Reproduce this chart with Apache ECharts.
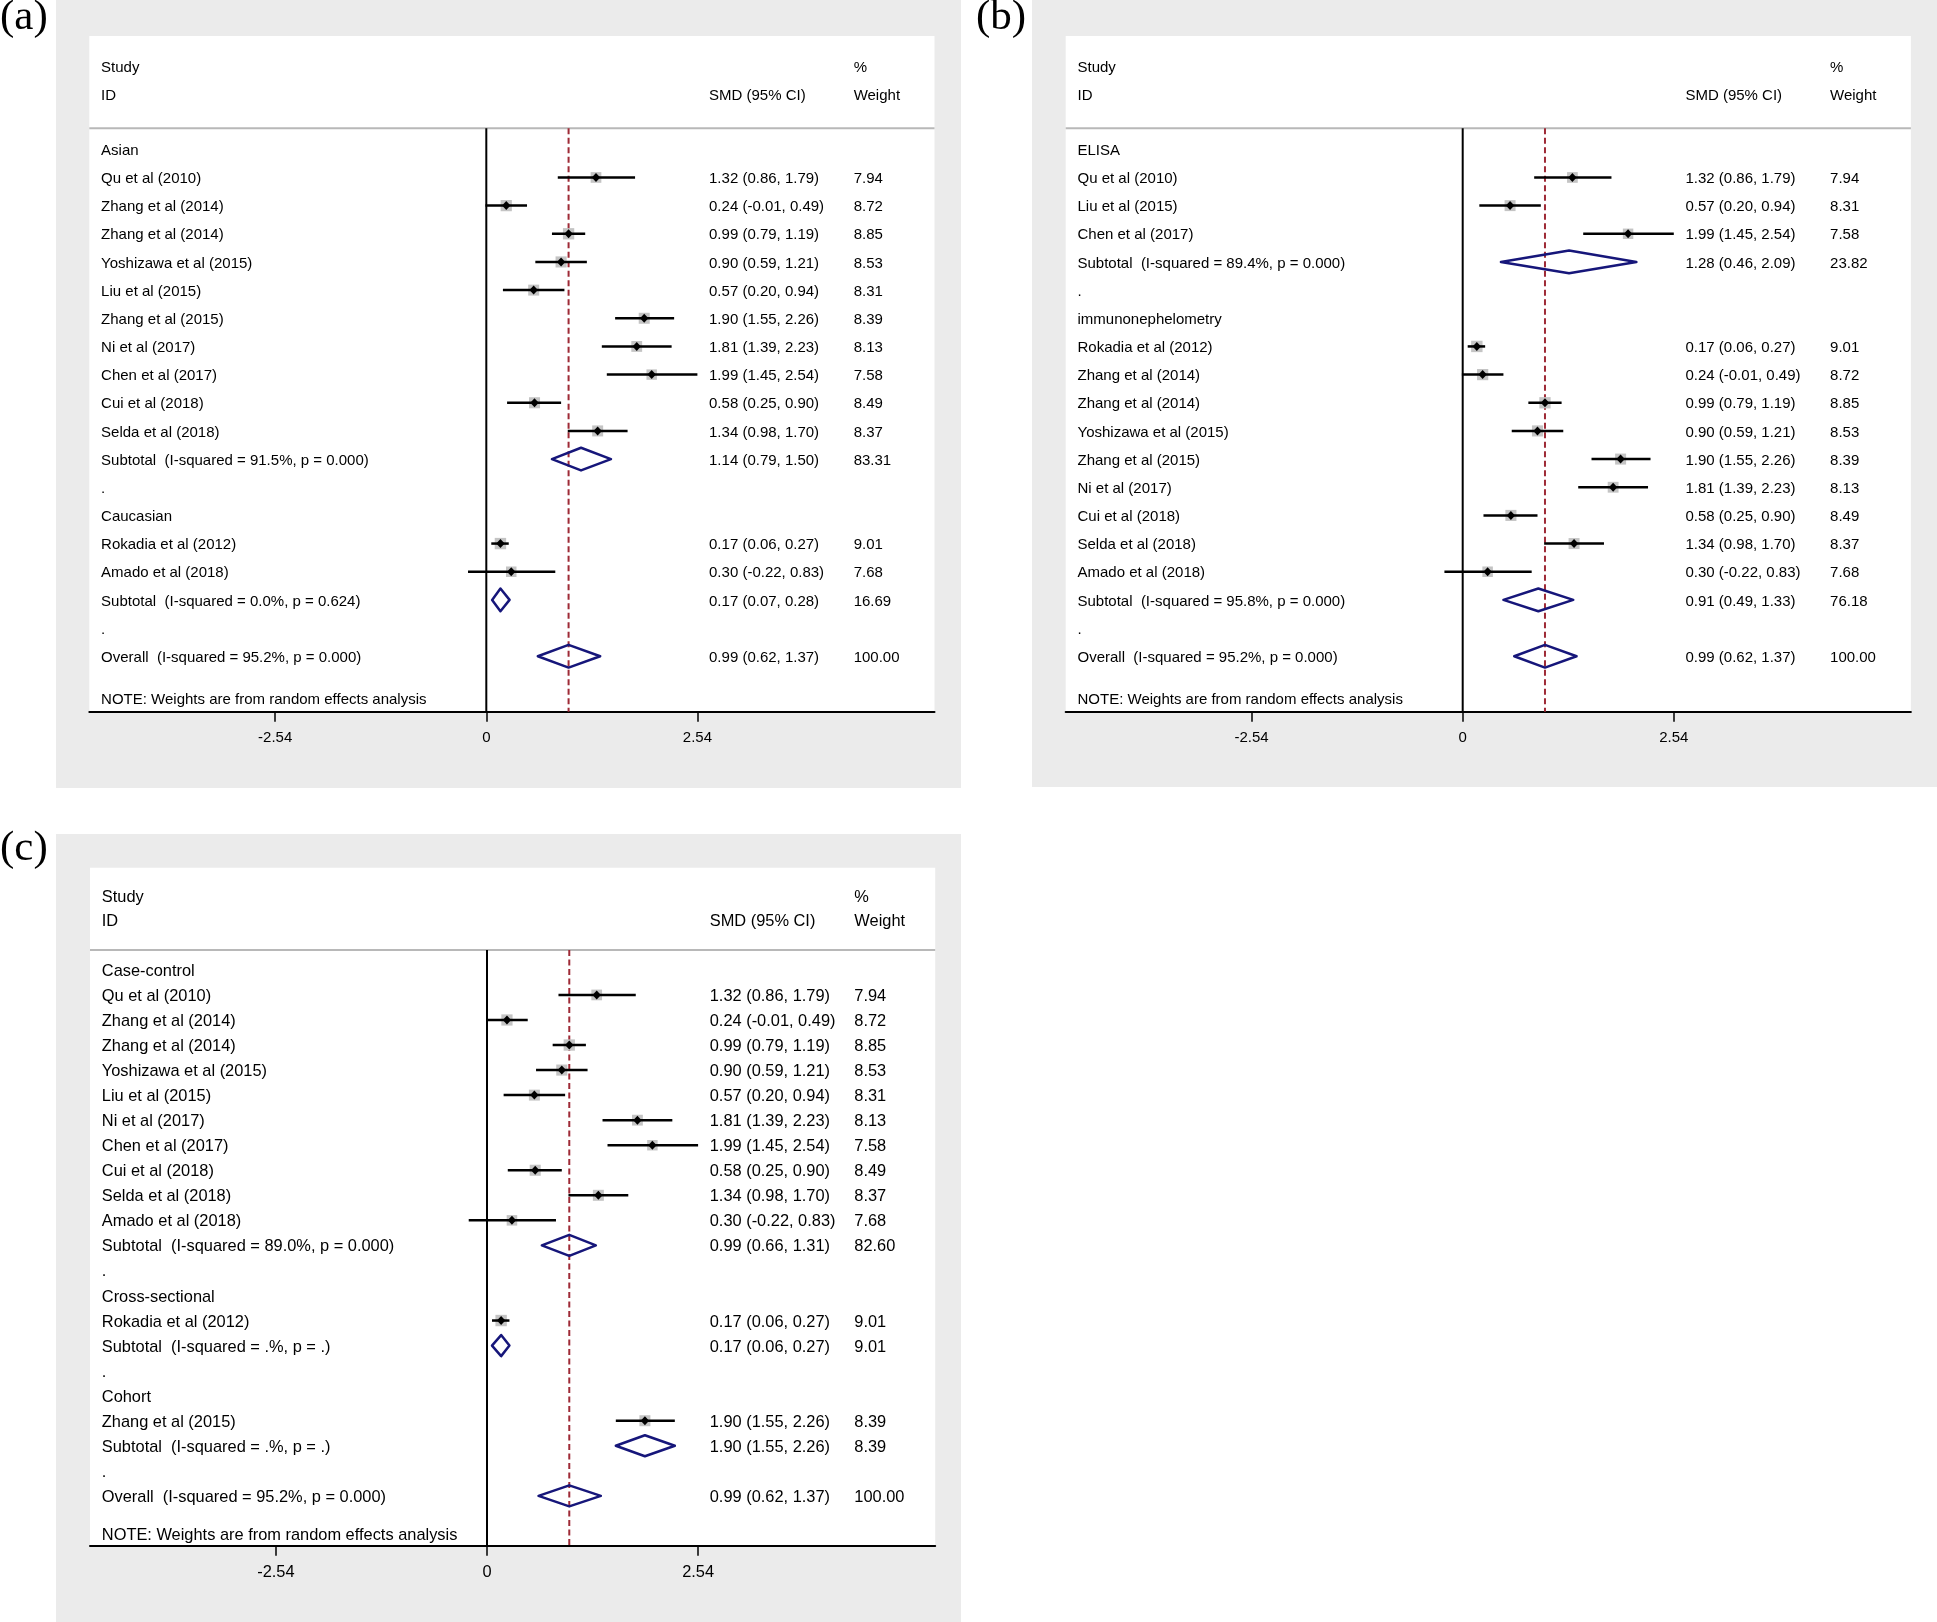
<!DOCTYPE html>
<html><head><meta charset="utf-8">
<script src="https://cdn.jsdelivr.net/npm/echarts@6/dist/echarts.min.js"></script>
<style>html,body{margin:0;padding:0;background:#fff;}#c{width:1937px;height:1622px;}</style>
</head><body><div id="c"></div>
<script>
// ================= DATA =================
const xTickValues = [-2.54, 0, 2.54];
const overallSMD = 0.99;
const headLeft = ['Study', 'ID'];
const headSMD = 'SMD (95% CI)';
const headWeight = ['%', 'Weight'];
const noteText = 'NOTE: Weights are from random effects analysis';

// kinds: g = group heading, s = study, t = subtotal, b = blank ".", o = overall
// ---- panel (a): ethnicity ----
const aLabels = ['Asian','Qu et al (2010)','Zhang et al (2014)','Zhang et al (2014)','Yoshizawa et al (2015)','Liu et al (2015)','Zhang et al (2015)','Ni et al (2017)','Chen et al (2017)','Cui et al (2018)','Selda et al (2018)','Subtotal  (I-squared = 91.5%, p = 0.000)','.','Caucasian','Rokadia et al (2012)','Amado et al (2018)','Subtotal  (I-squared = 0.0%, p = 0.624)','.','Overall  (I-squared = 95.2%, p = 0.000)'];
const aKinds  = ['g','s','s','s','s','s','s','s','s','s','s','t','b','g','s','s','t','b','o'];
const aEst    = [null,1.32,0.24,0.99,0.90,0.57,1.90,1.81,1.99,0.58,1.34,1.14,null,null,0.17,0.30,0.17,null,0.99];
const aLow    = [null,0.86,-0.01,0.79,0.59,0.20,1.55,1.39,1.45,0.25,0.98,0.79,null,null,0.06,-0.22,0.07,null,0.62];
const aHigh   = [null,1.79,0.49,1.19,1.21,0.94,2.26,2.23,2.54,0.90,1.70,1.50,null,null,0.27,0.83,0.28,null,1.37];
const aWeight = [null,7.94,8.72,8.85,8.53,8.31,8.39,8.13,7.58,8.49,8.37,83.31,null,null,9.01,7.68,16.69,null,100.00];

// ---- panel (b): detection method ----
const bLabels = ['ELISA','Qu et al (2010)','Liu et al (2015)','Chen et al (2017)','Subtotal  (I-squared = 89.4%, p = 0.000)','.','immunonephelometry','Rokadia et al (2012)','Zhang et al (2014)','Zhang et al (2014)','Yoshizawa et al (2015)','Zhang et al (2015)','Ni et al (2017)','Cui et al (2018)','Selda et al (2018)','Amado et al (2018)','Subtotal  (I-squared = 95.8%, p = 0.000)','.','Overall  (I-squared = 95.2%, p = 0.000)'];
const bKinds  = ['g','s','s','s','t','b','g','s','s','s','s','s','s','s','s','s','t','b','o'];
const bEst    = [null,1.32,0.57,1.99,1.28,null,null,0.17,0.24,0.99,0.90,1.90,1.81,0.58,1.34,0.30,0.91,null,0.99];
const bLow    = [null,0.86,0.20,1.45,0.46,null,null,0.06,-0.01,0.79,0.59,1.55,1.39,0.25,0.98,-0.22,0.49,null,0.62];
const bHigh   = [null,1.79,0.94,2.54,2.09,null,null,0.27,0.49,1.19,1.21,2.26,2.23,0.90,1.70,0.83,1.33,null,1.37];
const bWeight = [null,7.94,8.31,7.58,23.82,null,null,9.01,8.72,8.85,8.53,8.39,8.13,8.49,8.37,7.68,76.18,null,100.00];

// ---- panel (c): study design ----
const cLabels = ['Case-control','Qu et al (2010)','Zhang et al (2014)','Zhang et al (2014)','Yoshizawa et al (2015)','Liu et al (2015)','Ni et al (2017)','Chen et al (2017)','Cui et al (2018)','Selda et al (2018)','Amado et al (2018)','Subtotal  (I-squared = 89.0%, p = 0.000)','.','Cross-sectional','Rokadia et al (2012)','Subtotal  (I-squared = .%, p = .)','.','Cohort','Zhang et al (2015)','Subtotal  (I-squared = .%, p = .)','.','Overall  (I-squared = 95.2%, p = 0.000)'];
const cKinds  = ['g','s','s','s','s','s','s','s','s','s','s','t','b','g','s','t','b','g','s','t','b','o'];
const cEst    = [null,1.32,0.24,0.99,0.90,0.57,1.81,1.99,0.58,1.34,0.30,0.99,null,null,0.17,0.17,null,null,1.90,1.90,null,0.99];
const cLow    = [null,0.86,-0.01,0.79,0.59,0.20,1.39,1.45,0.25,0.98,-0.22,0.66,null,null,0.06,0.06,null,null,1.55,1.55,null,0.62];
const cHigh   = [null,1.79,0.49,1.19,1.21,0.94,2.23,2.54,0.90,1.70,0.83,1.31,null,null,0.27,0.27,null,null,2.26,2.26,null,1.37];
const cWeight = [null,7.94,8.72,8.85,8.53,8.31,8.13,7.58,8.49,8.37,7.68,82.60,null,null,9.01,9.01,null,null,8.39,8.39,null,100.00];

// ================= LAYOUT =================
const xMin = -4.777, xMax = 5.393;          // axis range spanning the whole plot region
const colStudy = -4.635, colSMD = 2.68, colWeight = 4.42;
const FONT = '"Liberation Sans", Arial, Helvetica, sans-serif';
const TEXT_DY = 1.5;

const panels = [
  { tag:'(a)', tagX:0, tagY:18, bg:[56,0,905,788], grid:{left:89.3, top:36, width:845.2, height:675.7},
    yMin:-4.023, yMax:19.97, hdr:-0.75, studyRow:-2.96, idRow:-1.95, noteRow:19.5, font:15, dH:0.403,
    labels:aLabels, kinds:aKinds, est:aEst, low:aLow, high:aHigh, weight:aWeight },
  { tag:'(b)', tagX:976, tagY:18, bg:[1032,0,905,787], grid:{left:1065.7, top:36, width:845.2, height:675.7},
    yMin:-4.023, yMax:19.97, hdr:-0.75, studyRow:-2.96, idRow:-1.95, noteRow:19.5, font:15, dH:0.403,
    labels:bLabels, kinds:bKinds, est:bEst, low:bLow, high:bHigh, weight:bWeight },
  { tag:'(c)', tagX:0, tagY:849, bg:[56,834,905,788], grid:{left:90, top:867.7, width:845.2, height:678},
    yMin:-4.08, yMax:22.99, hdr:-0.79, studyRow:-2.95, idRow:-1.99, noteRow:22.53, font:16.4, dH:0.42,
    labels:cLabels, kinds:cKinds, est:cEst, low:cLow, high:cHigh, weight:cWeight }
];

const fmt = v => v.toFixed(2);

function textEl(x, y, str, font) {
  return { type:'text', x:x, y:y + TEXT_DY, style:{ text:str, font:font, fill:'#000', align:'left', verticalAlign:'middle', textAlign:'left', textVerticalAlign:'middle' } };
}

const grids = [], xAxes = [], yAxes = [], series = [], graphics = [];

panels.forEach((p, k) => {
  const font = p.font + 'px ' + FONT;
  graphics.push({ type:'rect', z:-100, shape:{ x:p.bg[0], y:p.bg[1], width:p.bg[2], height:p.bg[3] }, style:{ fill:'#ebebeb' } });
  graphics.push({ type:'text', z:10, x:p.tagX, y:p.tagY, style:{ text:p.tag, font:'43px "Liberation Serif", "Times New Roman", serif', fill:'#000', verticalAlign:'middle', textVerticalAlign:'middle' } });

  grids.push(Object.assign({ show:true, backgroundColor:'#ffffff', borderWidth:0, containLabel:false, outerBoundsMode:'none' }, p.grid));
  xAxes.push({
    type:'value', gridIndex:k, min:xMin, max:xMax, position:'bottom',
    axisLine:{ show:true, onZero:false, lineStyle:{ color:'#000', width:2 } },
    axisTick:{ show:true, customValues:xTickValues, length:10, lineStyle:{ color:'#000', width:1.5 } },
    axisLabel:{ show:true, customValues:xTickValues, margin:19, color:'#000', fontSize:p.font, fontFamily:FONT, formatter: v => String(v) },
    splitLine:{ show:false }
  });
  yAxes.push({ type:'value', gridIndex:k, inverse:true, min:p.yMin, max:p.yMax, show:false });

  // header rule
  series.push({
    type:'custom', xAxisIndex:k, yAxisIndex:k, silent:true, z:2, clip:false,
    data:[[xMin, xMax, p.hdr]],
    renderItem:(params, api) => {
      const a = api.coord([api.value(0), api.value(2)]);
      const b = api.coord([api.value(1), api.value(2)]);
      return { type:'line', shape:{ x1:a[0], y1:a[1], x2:b[0], y2:b[1] }, style:{ stroke:'#b8b8b8', lineWidth:2 } };
    }
  });
  // reference lines: null line (solid) and overall estimate (dashed)
  series.push({
    type:'custom', xAxisIndex:k, yAxisIndex:k, silent:true, z:3, clip:false,
    data:[[0, p.hdr, p.yMax, 0], [overallSMD, p.hdr, p.yMax, 1]],
    renderItem:(params, api) => {
      const a = api.coord([api.value(0), api.value(1)]);
      const b = api.coord([api.value(0), api.value(2)]);
      const dashed = api.value(3) === 1;
      return { type:'line', shape:{ x1:a[0], y1:a[1], x2:b[0], y2:b[1] },
        style: dashed ? { stroke:'#9e2a36', lineWidth:2, lineDash:[6,3.5] } : { stroke:'#000', lineWidth:2 } };
    }
  });
  // column headings and note
  const heads = [
    [colStudy, p.studyRow, headLeft[0]], [colStudy, p.idRow, headLeft[1]],
    [colSMD, p.idRow, headSMD],
    [colWeight, p.studyRow, headWeight[0]], [colWeight, p.idRow, headWeight[1]],
    [colStudy, p.noteRow, noteText]
  ];
  series.push({
    type:'custom', xAxisIndex:k, yAxisIndex:k, silent:true, z:6, clip:false,
    data: heads.map(h => [h[0], h[1]]),
    renderItem:(params, api) => {
      const c = api.coord([api.value(0), api.value(1)]);
      return textEl(c[0], c[1], heads[params.dataIndex][2], font);
    }
  });
  // study rows
  series.push({
    type:'custom', xAxisIndex:k, yAxisIndex:k, silent:true, z:5, clip:false,
    data: p.labels.map((l, i) => [i]),
    renderItem:(params, api) => {
      const i = params.dataIndex, row = i, kind = p.kinds[i];
      const children = [];
      const lc = api.coord([colStudy, row]);
      children.push(textEl(lc[0], lc[1], p.labels[i], font));
      if (kind === 's' || kind === 't' || kind === 'o') {
        const est = p.est[i], lo = p.low[i], hi = p.high[i], w = p.weight[i];
        const sc = api.coord([colSMD, row]), wc = api.coord([colWeight, row]);
        children.push(textEl(sc[0], sc[1], fmt(est) + ' (' + fmt(lo) + ', ' + fmt(hi) + ')', font));
        children.push(textEl(wc[0], wc[1], fmt(w), font));
        const cL = api.coord([lo, row]), cH = api.coord([hi, row]), cE = api.coord([est, row]);
        if (kind === 's') {
          const s = 3.8 * Math.sqrt(w);
          children.push({ type:'rect', shape:{ x:cE[0]-s/2, y:cE[1]-s/2, width:s, height:s }, style:{ fill:'#c4c4c4' } });
          children.push({ type:'line', shape:{ x1:cL[0], y1:cL[1], x2:cH[0], y2:cH[1] }, style:{ stroke:'#000', lineWidth:2.5 } });
          children.push({ type:'polygon', shape:{ points:[[cE[0]-4.2,cE[1]],[cE[0],cE[1]-4.5],[cE[0]+4.2,cE[1]],[cE[0],cE[1]+4.5]] }, style:{ fill:'#000' } });
        } else {
          const h = Math.abs(api.size([0, p.dH])[1]);
          children.push({ type:'polygon', shape:{ points:[[cL[0],cE[1]],[cE[0],cE[1]-h],[cH[0],cE[1]],[cE[0],cE[1]+h]] },
            style:{ fill:'none', stroke:'#16167a', lineWidth:2.5, lineJoin:'round' } });
        }
      }
      return { type:'group', children:children };
    }
  });
});

const chart = echarts.init(document.getElementById('c'), null, { renderer:'canvas', width:1937, height:1622 });
chart.setOption({
  backgroundColor:'#ffffff',
  animation:false,
  graphic: graphics,
  grid: grids,
  xAxis: xAxes,
  yAxis: yAxes,
  series: series
});
</script>
</body></html>
